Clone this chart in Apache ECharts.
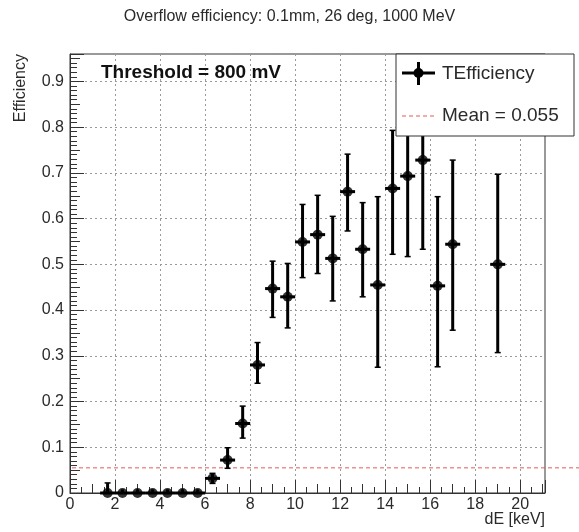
<!DOCTYPE html>
<html><head><meta charset="utf-8">
<script src="https://cdn.jsdelivr.net/npm/echarts@6/dist/echarts.min.js"></script>
<style>html,body{margin:0;padding:0;background:#fff}#c{width:579px;height:532px}</style>
</head><body><div id="c"></div>
<script>
// ---- data ----
const titleText = 'Overflow efficiency: 0.1mm, 26 deg, 1000 MeV';
const xAxisTitle = 'dE [keV]';
const yAxisTitle = 'Efficiency';
const thresholdText = 'Threshold = 800 mV';
const legendNames = ['TEfficiency', 'Mean = 0.055'];
const energy     = [1.67, 2.33, 3.0, 3.67, 4.33, 5.0, 5.67, 6.33, 7.0, 7.67, 8.33, 9.0, 9.67, 10.33, 11.0, 11.67, 12.33, 13.0, 13.67, 14.33, 15.0, 15.67, 16.33, 17.0, 19.0];
const efficiency = [0, 0, 0, 0, 0, 0, 0, 0.032, 0.072, 0.152, 0.280, 0.447, 0.429, 0.549, 0.565, 0.513, 0.659, 0.533, 0.455, 0.666, 0.693, 0.728, 0.453, 0.544, 0.500];
const lowerEdge  = [0, 0, 0, 0, 0, 0, 0, 0.021, 0.054, 0.120, 0.240, 0.384, 0.361, 0.471, 0.480, 0.420, 0.573, 0.429, 0.275, 0.522, 0.517, 0.533, 0.276, 0.356, 0.307];
const upperEdge  = [0.022, 0.008, 0.008, 0.008, 0.008, 0.008, 0.008, 0.043, 0.099, 0.190, 0.329, 0.507, 0.502, 0.631, 0.651, 0.605, 0.741, 0.635, 0.648, 0.793, 0.820, 0.850, 0.648, 0.728, 0.697];
const binHalfWidth = 1 / 3;
const meanValue = 0.055;
const xRange = [0, 21.1];
const yRange = [0, 0.96];
const xMajor = 2, xMedium = 1, xMinor = 0.5;
const yMajor = 0.1, yMedium = 0.05, yMinor = 0.01;

const FONT = '"Liberation Sans", Arial, Helvetica, sans-serif';
const TXT = '#2a2a2a';
const chart = echarts.init(document.getElementById('c'), null, {renderer: 'canvas'});

const points = energy.map((e, i) => [e, efficiency[i], lowerEdge[i], upperEdge[i]]);

function isMult(v, step) { const r = v / step; return Math.abs(r - Math.round(r)) < 1e-6; }

function tickAxisX(step, len) {
  return {
    type: 'value', min: xRange[0], max: xRange[1], interval: step, position: 'bottom',
    axisLine: {show: false}, axisLabel: {show: false}, splitLine: {show: false},
    axisTick: {show: true, inside: true, length: len, lineStyle: {color: '#333', width: 1}}
  };
}
function tickAxisY(step, len) {
  return {
    type: 'value', min: yRange[0], max: yRange[1], interval: step, position: 'left',
    axisLine: {show: false}, axisLabel: {show: false}, splitLine: {show: false},
    axisTick: {show: true, inside: true, length: len, lineStyle: {color: '#333', width: 1}}
  };
}

function renderErr(params, api) {
  const x = api.value(0), y = api.value(1), lo = api.value(2), hi = api.value(3);
  const pL = api.coord([x - binHalfWidth, y]);
  const pR = api.coord([x + binHalfWidth, y]);
  const pC = api.coord([x, y]);
  const pLo = api.coord([x, lo]);
  const pHi = api.coord([x, hi]);
  const st = {stroke: '#000', lineWidth: 3};
  const cap = 3;
  const ch = [
    {type: 'line', shape: {x1: pL[0], y1: pL[1], x2: pR[0], y2: pR[1]}, style: st},
    {type: 'line', shape: {x1: pLo[0], y1: pLo[1], x2: pHi[0], y2: pHi[1]}, style: st}
  ];
  if (pC[1] - pHi[1] > 4) ch.push({type: 'line', shape: {x1: pHi[0] - cap, y1: pHi[1], x2: pHi[0] + cap, y2: pHi[1]}, style: {stroke: '#000', lineWidth: 1.5}});
  if (pLo[1] - pC[1] > 4) ch.push({type: 'line', shape: {x1: pLo[0] - cap, y1: pLo[1], x2: pLo[0] + cap, y2: pLo[1]}, style: {stroke: '#000', lineWidth: 1.5}});
  return {type: 'group', children: ch};
}

const option = {
  animation: false,
  backgroundColor: '#fff',
  title: {
    text: titleText, left: 'center', top: 9, padding: 0,
    textStyle: {fontFamily: FONT, fontSize: 16, fontWeight: 'normal', color: TXT}
  },
  grid: {left: 70, right: 34, top: 54, bottom: 39, show: true, borderColor: '#333', borderWidth: 1, backgroundColor: 'transparent'},
  xAxis: [
    {
      type: 'value', min: xRange[0], max: xRange[1], interval: xMajor, position: 'bottom',
      axisLine: {show: true, onZero: false, lineStyle: {color: '#333', width: 1}},
      axisTick: {show: true, inside: true, length: 13, lineStyle: {color: '#333', width: 1}},
      splitLine: {show: true, lineStyle: {type: [2, 3], color: '#9a9a9a', width: 1}},
      axisLabel: {
        fontFamily: FONT, fontSize: 16, color: TXT, margin: 4,
        formatter: v => isMult(v, xMajor) ? String(Math.round(v)) : ''
      }
    },
    tickAxisX(xMedium, 9),
    tickAxisX(xMinor, 6)
  ],
  yAxis: [
    {
      type: 'value', min: yRange[0], max: yRange[1], interval: yMajor, position: 'left',
      axisLine: {show: true, onZero: false, lineStyle: {color: '#333', width: 1}},
      axisTick: {show: true, inside: true, length: 14, lineStyle: {color: '#333', width: 1}},
      splitLine: {show: true, lineStyle: {type: [2, 3], color: '#9a9a9a', width: 1}},
      axisLabel: {
        fontFamily: FONT, fontSize: 16, color: TXT, margin: 6,
        formatter: v => (v === 0 ? '0' : (isMult(v, yMajor) ? v.toFixed(1) : ''))
      }
    },
    tickAxisY(yMedium, 10),
    tickAxisY(yMinor, 7)
  ],
  series: [
    {
      type: 'custom', name: 'errors', xAxisIndex: 0, yAxisIndex: 0,
      renderItem: renderErr, data: points, encode: {x: 0, y: 1}, z: 5, clip: false
    },
    {
      type: 'scatter', name: legendNames[0], xAxisIndex: 0, yAxisIndex: 0,
      data: points.map(p => [p[0], p[1]]), symbol: 'circle', symbolSize: 10,
      itemStyle: {color: '#000'}, z: 6
    }
  ]
};
chart.setOption(option);

// overlay elements positioned through the chart's own scales
const yMean = chart.convertToPixel({yAxisIndex: 0}, meanValue);
const x0 = chart.convertToPixel({xAxisIndex: 0}, xRange[0]);
const xEnd = chart.convertToPixel({xAxisIndex: 0}, xRange[1]);
const yTop = chart.convertToPixel({yAxisIndex: 0}, yRange[1]);
const yBot = chart.convertToPixel({yAxisIndex: 0}, yRange[0]);

const lgX = 396, lgY = yTop, lgW = 178, lgH = 82;
chart.setOption({
  graphic: [
    {type: 'line', z: 4, shape: {x1: x0 + 2, y1: yMean, x2: 579, y2: yMean}, style: {stroke: '#e05a5a', lineWidth: 1, lineDash: [4, 3]}},
    {type: 'text', z: 20, x: 21, y: yTop, rotation: Math.PI / 2,
      style: {text: yAxisTitle, font: '16px ' + FONT, fill: TXT, align: 'right', verticalAlign: 'middle'}},
    {type: 'text', z: 20, x: xEnd, y: yBot + 27,
      style: {text: xAxisTitle, font: '16px ' + FONT, fill: TXT, align: 'right', verticalAlign: 'middle'}},
    {type: 'text', z: 20, x: 101, y: 73,
      style: {text: thresholdText, font: 'bold 19px ' + FONT, fill: '#111', align: 'left', verticalAlign: 'middle'}},
    {type: 'group', z: 30, children: [
      {type: 'rect', z: 30, shape: {x: lgX, y: lgY, width: lgW, height: lgH}, style: {fill: '#fff', stroke: '#333', lineWidth: 1}},
      {type: 'line', z: 31, shape: {x1: lgX + 6, y1: lgY + 19, x2: lgX + 39, y2: lgY + 19}, style: {stroke: '#000', lineWidth: 3}},
      {type: 'line', z: 31, shape: {x1: lgX + 22.5, y1: lgY + 8, x2: lgX + 22.5, y2: lgY + 31}, style: {stroke: '#000', lineWidth: 3}},
      {type: 'circle', z: 31, shape: {cx: lgX + 22.5, cy: lgY + 19, r: 5}, style: {fill: '#000'}},
      {type: 'text', z: 31, x: lgX + 46, y: lgY + 20, style: {text: legendNames[0], font: '19px ' + FONT, fill: TXT, align: 'left', verticalAlign: 'middle'}},
      {type: 'line', z: 31, shape: {x1: lgX + 6, y1: lgY + 62, x2: lgX + 39, y2: lgY + 62}, style: {stroke: '#e05a5a', lineWidth: 1, lineDash: [4, 3]}},
      {type: 'text', z: 31, x: lgX + 46, y: lgY + 62, style: {text: legendNames[1], font: '19px ' + FONT, fill: TXT, align: 'left', verticalAlign: 'middle'}}
    ]}
  ]
});
</script>
</body></html>
